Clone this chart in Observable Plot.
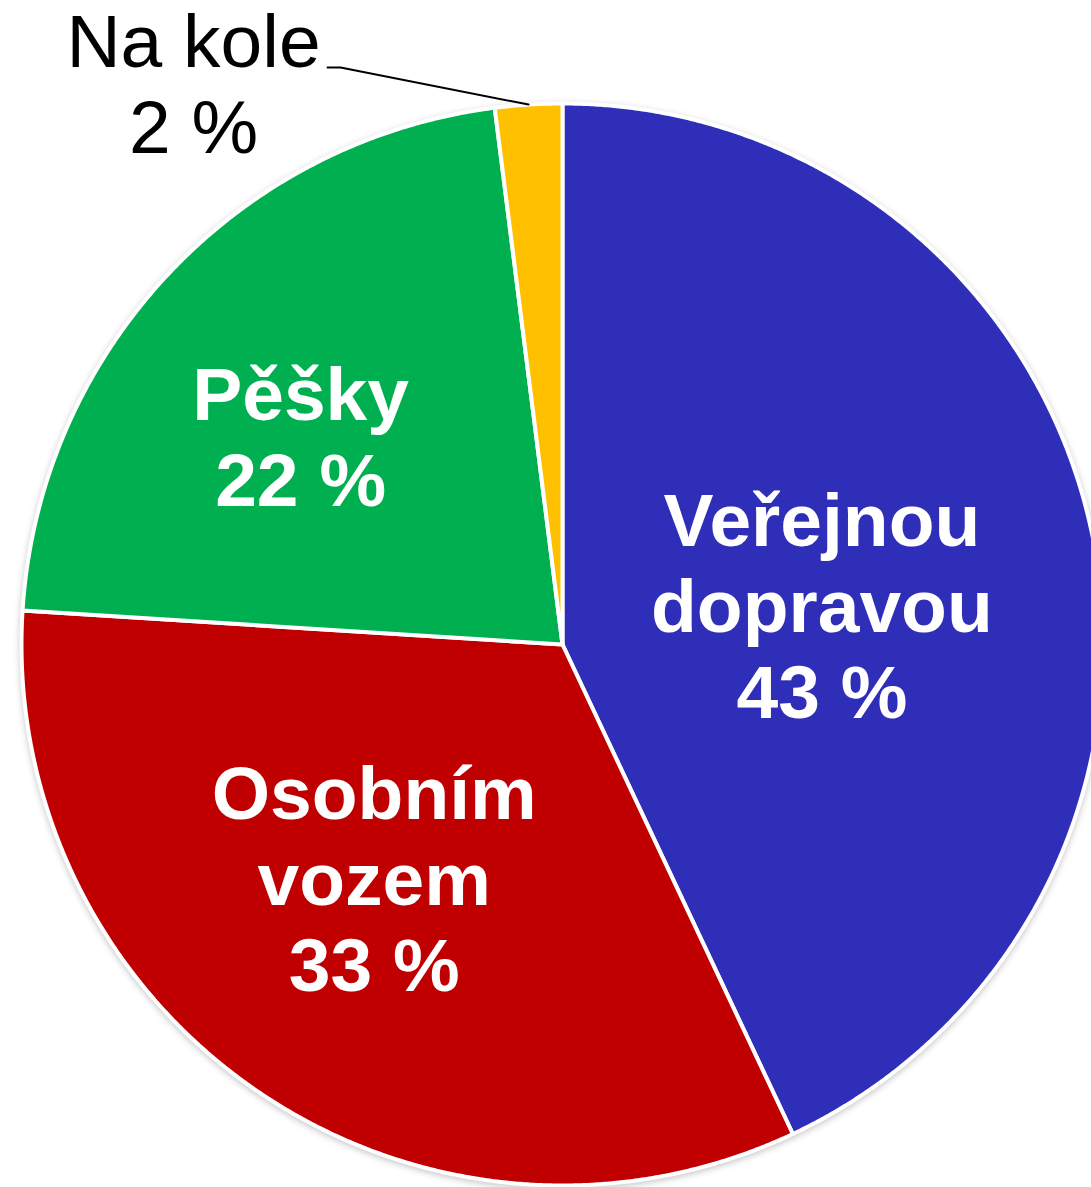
<!DOCTYPE html>
<html><head><meta charset="utf-8">
<script src="https://cdn.jsdelivr.net/npm/d3@7"></script>
<script src="https://cdn.jsdelivr.net/npm/@observablehq/plot@0.6"></script>
<style>
html,body{margin:0;padding:0;background:#fff;overflow:hidden}
#chart svg{display:block}
</style></head><body><div id="chart"></div>
<script>
// ---- data ----
const categories = ["Veřejnou dopravou", "Osobním vozem", "Pěšky", "Na kole"];
const labelNames = ["Veřejnou\ndopravou", "Osobním\nvozem", "Pěšky", "Na kole"];
const shares = [43, 33, 22, 2];
const colors = ["#2E2EB8", "#C00000", "#00B050", "#FFC000"];

// ---- layout ----
const W = 1091, H = 1187;
const cx = 562, cy = 644, Rpx = 541;   // pie centre and radius in pixels
const font = "'Liberation Sans', Arial, Helvetica, sans-serif";

const arcs = d3.pie().sort(null).value(d => d)(shares);
const pt = (a, r) => ({x: r * Math.sin(a), y: r * Math.cos(a)});

// slice outlines sampled from the pie angles
const slicePts = [];
arcs.forEach((a, i) => {
  const cat = categories[i];
  slicePts.push({cat, ...pt(0, 0)});
  const n = Math.max(2, Math.ceil((a.endAngle - a.startAngle) / (Math.PI / 720)));
  for (let k = 0; k <= n; k++) {
    const ang = a.startAngle + (a.endAngle - a.startAngle) * k / n;
    slicePts.push({cat, ...pt(ang, 1)});
  }
});

// label anchors
const labels = arcs.map((a, i) => {
  const mid = (a.startAngle + a.endAngle) / 2;
  return {cat: categories[i], text: `${labelNames[i]}\n${shares[i]} %`, ...pt(mid, 0.55), mid};
});
const inner = labels.slice(0, 3);
const small = labels[3];
const edge = pt(small.mid, 1);
const px = v => v / Rpx;
const leader = [
  {x: edge.x, y: edge.y},
  {x: edge.x + px(-188), y: edge.y + px(37)},
  {x: edge.x + px(-201), y: edge.y + px(37)}
];
const outerLabel = [{text: small.text, x: edge.x + px(-335), y: edge.y + px(22)}];

const nudges = {"Veřejnou dopravou": [-31, 25], "Osobním vozem": [-21, -13], "Pěšky": [-45, -5]};
const textStyle = {fill: "white", fontWeight: "bold", fontSize: 75, fontFamily: font, lineHeight: 1.147, textAnchor: "middle", lineAnchor: "middle"};

const chart = Plot.plot({
  width: W, height: H,
  margin: 0,
  x: {domain: [-cx / Rpx, (W - cx) / Rpx], axis: null},
  y: {domain: [-(H - cy) / Rpx, cy / Rpx], axis: null},
  color: {domain: categories, range: colors},
  style: {background: "white", fontFamily: font},
  marks: [
    Plot.line(slicePts, {x: "x", y: "y", z: "cat", fill: "cat", stroke: "white", strokeWidth: 4, strokeLinejoin: "round", curve: "linear-closed"}),
    ...inner.map(d => Plot.text([d], {x: "x", y: "y", text: "text", dx: nudges[d.cat][0], dy: nudges[d.cat][1], ...textStyle})),
    Plot.line(leader, {x: "x", y: "y", stroke: "black", strokeWidth: 2}),
    Plot.text(outerLabel, {x: "x", y: "y", text: "text", fill: "black", fontWeight: "normal", fontSize: 75, fontFamily: font, lineHeight: 1.147, textAnchor: "middle", lineAnchor: "middle"})
  ]
});
const g = chart.querySelector('g[aria-label="line"]');
if (g) g.style.filter = "drop-shadow(0px 2px 3px rgba(0,0,0,0.22))";
document.getElementById("chart").appendChild(chart);
</script>
</body></html>
